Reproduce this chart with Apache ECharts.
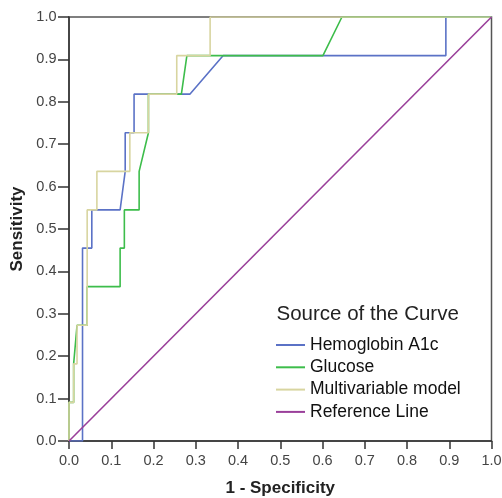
<!DOCTYPE html>
<html>
<head>
<meta charset="utf-8">
<script src="https://cdn.jsdelivr.net/npm/echarts@6/dist/echarts.min.js"></script>
<style>
html,body{margin:0;padding:0;background:#fff;}
#c{width:502px;height:498px;}
</style>
</head>
<body>
<div id="c"></div>
<script>
// 1 - Specificity (x) and Sensitivity (y) for each ROC curve
var hbX  = [0, 0.032, 0.032, 0.054, 0.054, 0.121, 0.133, 0.133, 0.154, 0.154, 0.286, 0.365, 0.892, 0.892, 1];
var hbY  = [0, 0,     0.455, 0.455, 0.545, 0.545, 0.636, 0.727, 0.727, 0.818, 0.818, 0.909, 0.909, 1,     1];

var gluX = [0, 0,     0.011, 0.011, 0.019, 0.043, 0.043, 0.121, 0.121, 0.131, 0.131, 0.166, 0.166, 0.188, 0.188, 0.266, 0.279, 0.601, 0.646, 1];
var gluY = [0, 0.091, 0.091, 0.182, 0.273, 0.273, 0.364, 0.364, 0.455, 0.455, 0.545, 0.545, 0.636, 0.727, 0.818, 0.818, 0.909, 0.909, 1,     1];

var mvX  = [0, 0,     0.011, 0.011, 0.019, 0.019, 0.043, 0.043, 0.066, 0.066, 0.144, 0.144, 0.188, 0.188, 0.255, 0.255, 0.334, 0.334, 1];
var mvY  = [0, 0.091, 0.091, 0.182, 0.182, 0.273, 0.273, 0.545, 0.545, 0.636, 0.636, 0.727, 0.727, 0.818, 0.818, 0.909, 0.909, 1,     1];

var refX = [0, 1];
var refY = [0, 1];

var seriesNames = ['Hemoglobin A1c', 'Glucose', 'Multivariable model', 'Reference Line'];
var seriesColors = ['#5b72c6', '#3dbd4b', '#d8d5a0', '#9a3f9a'];
var legendTitle = 'Source of the Curve';
var xName = '1 - Specificity';
var yName = 'Sensitivity';

var FONT = 'Liberation Sans, Arial, sans-serif';

function pairs(xs, ys) {
  var out = [];
  for (var i = 0; i < xs.length; i++) out.push([xs[i], ys[i]]);
  return out;
}

var allX = [hbX, gluX, mvX, refX];
var allY = [hbY, gluY, mvY, refY];

var series = seriesNames.map(function (n, i) {
  return {
    name: n,
    type: 'line',
    data: pairs(allX[i], allY[i]),
    showSymbol: false,
    symbol: 'none',
    animation: false,
    lineStyle: { color: seriesColors[i], width: 1.6 },
    itemStyle: { color: seriesColors[i] },
    z: 2 + i
  };
});

var chart = echarts.init(document.getElementById('c'), null, { renderer: 'canvas' });
chart.setOption({
  backgroundColor: '#ffffff',
  animation: false,
  title: {
    text: legendTitle,
    left: 271.5,
    top: 299,
    textStyle: { fontFamily: FONT, fontSize: 20.5, fontWeight: 'normal', color: '#222' }
  },
  legend: {
    orient: 'vertical',
    left: 271,
    top: 331,
    icon: 'rect',
    itemWidth: 29,
    itemHeight: 2,
    itemGap: 4.3,
    data: seriesNames,
    textStyle: { fontFamily: FONT, fontSize: 17.5, color: '#111', lineHeight: 17 },
    selectedMode: false
  },
  grid: {
    left: 69, right: 10.5, top: 17, bottom: 57,
    show: true, borderColor: '#555', borderWidth: 1.5,
    containLabel: false,
    outerBoundsMode: 'none'
  },
  xAxis: {
    type: 'value', min: 0, max: 1, interval: 0.1,
    name: xName, nameLocation: 'middle', nameGap: 39,
    nameTextStyle: { fontFamily: FONT, fontSize: 17, fontWeight: 'bold', color: '#222' },
    axisLine: { show: true, onZero: false, lineStyle: { color: '#333', width: 1.5 } },
    axisTick: { show: true, length: 8, lineStyle: { color: '#333', width: 1.5 } },
    axisLabel: { formatter: function (v) { return v.toFixed(1); }, fontFamily: FONT, fontSize: 14.5, color: '#444', margin: 12.5 },
    splitLine: { show: false }
  },
  yAxis: {
    type: 'value', min: 0, max: 1, interval: 0.1,
    name: yName, nameLocation: 'middle', nameGap: 42,
    nameTextStyle: { fontFamily: FONT, fontSize: 17, fontWeight: 'bold', color: '#222' },
    axisLine: { show: true, onZero: false, lineStyle: { color: '#333', width: 1.5 } },
    axisTick: { show: true, length: 11, lineStyle: { color: '#333', width: 1.5 } },
    axisLabel: { formatter: function (v) { return v.toFixed(1); }, fontFamily: FONT, fontSize: 14.5, color: '#444', margin: 12.5 },
    splitLine: { show: false }
  },
  series: series
});
</script>
</body>
</html>
